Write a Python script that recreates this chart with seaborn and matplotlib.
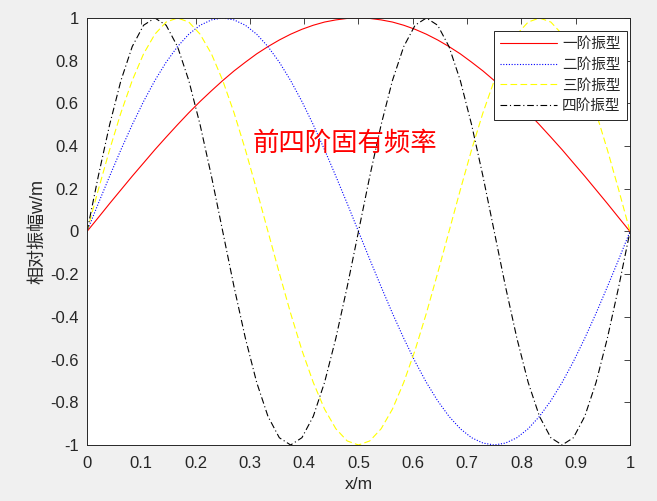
import matplotlib
matplotlib.use("Agg")
import matplotlib.pyplot as plt
import seaborn as sns
from matplotlib.ticker import FuncFormatter

# values (49 samples along the beam, x/m)
x = [0, 0.0208, 0.0417, 0.0625, 0.0833, 0.1042, 0.125, 0.1458, 0.1667, 0.1875,
     0.2083, 0.2292, 0.25, 0.2708, 0.2917, 0.3125, 0.3333, 0.3542, 0.375, 0.3958,
     0.4167, 0.4375, 0.4583, 0.4792, 0.5, 0.5208, 0.5417, 0.5625, 0.5833, 0.6042,
     0.625, 0.6458, 0.6667, 0.6875, 0.7083, 0.7292, 0.75, 0.7708, 0.7917, 0.8125,
     0.8333, 0.8542, 0.875, 0.8958, 0.9167, 0.9375, 0.9583, 0.9792, 1.0]

mode1 = [0, 0.065, 0.131, 0.195, 0.259, 0.321, 0.383, 0.442, 0.5, 0.556,
         0.609, 0.659, 0.707, 0.752, 0.793, 0.832, 0.866, 0.897, 0.924, 0.947,
         0.966, 0.981, 0.991, 0.998, 1.0, 0.998, 0.991, 0.981, 0.966, 0.947,
         0.924, 0.897, 0.866, 0.832, 0.793, 0.752, 0.707, 0.659, 0.609, 0.556,
         0.5, 0.442, 0.383, 0.321, 0.259, 0.195, 0.131, 0.065, 0]

mode2 = [0, 0.131, 0.259, 0.383, 0.5, 0.609, 0.707, 0.793, 0.866, 0.924,
         0.966, 0.991, 1.0, 0.991, 0.966, 0.924, 0.866, 0.793, 0.707, 0.609,
         0.5, 0.383, 0.259, 0.131, 0, -0.131, -0.259, -0.383, -0.5, -0.609,
         -0.707, -0.793, -0.866, -0.924, -0.966, -0.991, -1.0, -0.991, -0.966, -0.924,
         -0.866, -0.793, -0.707, -0.609, -0.5, -0.383, -0.259, -0.131, 0]

mode3 = [0, 0.195, 0.383, 0.556, 0.707, 0.832, 0.924, 0.981, 1.0, 0.981,
         0.924, 0.832, 0.707, 0.556, 0.383, 0.195, 0, -0.195, -0.383, -0.556,
         -0.707, -0.832, -0.924, -0.981, -1.0, -0.981, -0.924, -0.832, -0.707, -0.556,
         -0.383, -0.195, 0, 0.195, 0.383, 0.556, 0.707, 0.832, 0.924, 0.981,
         1.0, 0.981, 0.924, 0.832, 0.707, 0.556, 0.383, 0.195, 0]

mode4 = [0, 0.259, 0.5, 0.707, 0.866, 0.966, 1.0, 0.966, 0.866, 0.707,
         0.5, 0.259, 0, -0.259, -0.5, -0.707, -0.866, -0.966, -1.0, -0.966,
         -0.866, -0.707, -0.5, -0.259, 0, 0.259, 0.5, 0.707, 0.866, 0.966,
         1.0, 0.966, 0.866, 0.707, 0.5, 0.259, 0, -0.259, -0.5, -0.707,
         -0.866, -0.966, -1.0, -0.966, -0.866, -0.707, -0.5, -0.259, 0]

labels = ["一阶振型", "二阶振型", "三阶振型", "四阶振型"]
xticks = [0, 0.1, 0.2, 0.3, 0.4, 0.5, 0.6, 0.7, 0.8, 0.9, 1]
yticks = [-1, -0.8, -0.6, -0.4, -0.2, 0, 0.2, 0.4, 0.6, 0.8, 1]

sns.set_style("white")
plt.rcParams["font.family"] = ["Liberation Sans", "Noto Sans CJK SC", "DejaVu Sans"]
plt.rcParams["axes.unicode_minus"] = False

fig = plt.figure(figsize=(6.57, 5.01), dpi=100, facecolor="#F0F0F0")
ax = fig.add_axes([0.1324, 0.1118, 0.8265, 0.8523])
ax.set_facecolor("white")

sns.lineplot(x=x, y=mode1, color="#FF0000", linestyle="-", linewidth=0.8, label=labels[0], ax=ax)
sns.lineplot(x=x, y=mode2, color="#0000FF", linestyle=(0, (1, 1.5)), linewidth=0.8, label=labels[1], ax=ax)
sns.lineplot(x=x, y=mode3, color="#FFFF00", linestyle=(0, (6, 3)), linewidth=0.8, label=labels[2], ax=ax)
sns.lineplot(x=x, y=mode4, color="black", linestyle=(0, (6, 2.5, 1, 2.5)), linewidth=0.8, label=labels[3], ax=ax)

ax.set_xlim(0, 1)
ax.set_ylim(-1, 1)
ax.set_xticks(xticks)
ax.set_yticks(yticks)
fmt = FuncFormatter(lambda v, p: "{:g}".format(round(v, 2)))
ax.xaxis.set_major_formatter(fmt)
ax.yaxis.set_major_formatter(fmt)

for s in ax.spines.values():
    s.set_visible(True)
    s.set_color("#262626")
    s.set_linewidth(0.7)
ax.tick_params(direction="in", top=True, right=True, length=4, width=0.6,
               colors="#262626", labelsize=12)
ax.tick_params(axis="x", pad=8)
ax.tick_params(axis="y", pad=6)

ax.set_xlabel("x/m", fontsize=12.5, color="#262626", labelpad=4)
ax.set_ylabel("相对振幅w/m", fontsize=13, color="#262626", labelpad=3)

ax.text(0.475, 0.415, "前四阶固有频率", color="#FF0000", fontsize=19,
        ha="center", va="center", family=["Noto Sans CJK SC"])

leg = ax.legend(loc="upper right", bbox_to_anchor=(0.995, 0.97), borderaxespad=0,
                fontsize=10.5, handlelength=3.9, frameon=True, fancybox=False,
                edgecolor="#262626", framealpha=1, labelspacing=0.45,
                borderpad=0.45, handletextpad=0.35)
leg.get_frame().set_linewidth(0.7)
for t in leg.get_texts():
    t.set_color("#262626")

fig.savefig("out.png", dpi=100, facecolor=fig.get_facecolor())
